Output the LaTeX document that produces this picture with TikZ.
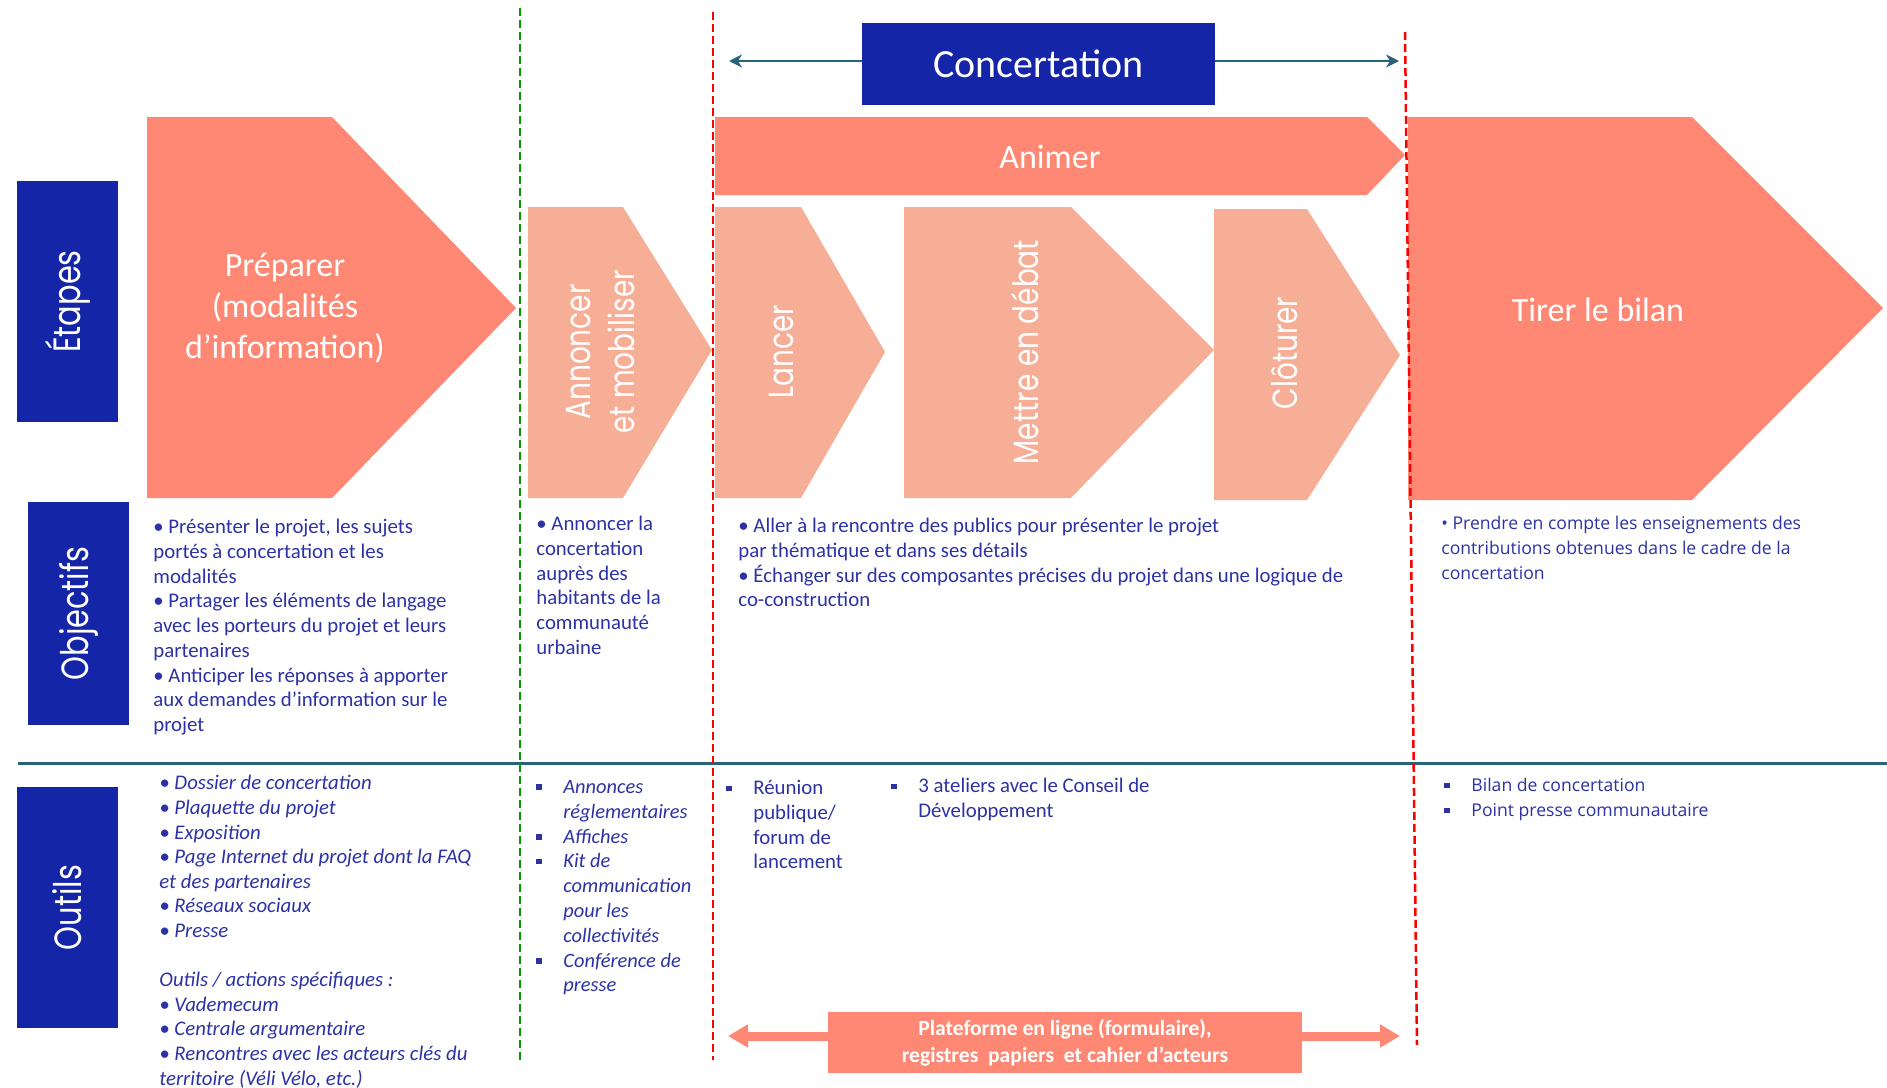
\documentclass[tikz,border=0pt]{standalone}
\usepackage{fontspec}
\setmainfont{Carlito}
\newfontfamily\poppins{Poppins}
\newfontfamily\opensans{Open Sans}
\definecolor{conblue}{RGB}{21,37,168}
\definecolor{chevdark}{RGB}{254,136,116}
\definecolor{chevlight}{RGB}{247,174,151}
\definecolor{tealline}{RGB}{38,98,120}
\definecolor{textblue}{RGB}{44,50,165}
\usetikzlibrary{arrows.meta, positioning}
\newcommand{\sqb}{\makebox[13.5pt][l]{\raisebox{1.8pt}{\rule{2.8pt}{2.8pt}}}}

\begin{document}
\begin{tikzpicture}[
    x=0.5pt, y=-0.5pt,
    sidebox/.style={fill=conblue, text=white, minimum width=50.5pt, inner sep=0pt, font=\poppins\fontsize{19}{22}\selectfont},
    steplabel/.style={text=white, align=center, font=\fontsize{17}{20.5}\selectfont},
    vlabel/.style={text=white, rotate=90, align=center, inner sep=0pt, font=\poppins\fontsize{17.5}{22}\selectfont},
    bodytext/.style={anchor=north west, inner sep=0pt, align=left, text=textblue, font=\fontsize{10.4}{12.35}\selectfont},
    sidetext/.style={anchor=north west, inner sep=0pt, align=left, text=textblue, font=\opensans\fontsize{8.8}{12.5}\selectfont},
    conarrow/.style={draw=tealline, line width=1.4pt, -{Stealth[length=6.5pt,width=6.5pt]}},
    platarrow/.style={draw=chevdark, line width=4.5pt, -{Triangle[length=10pt,width=11pt]}},
    redline/.style={red, line width=1.25pt, dash pattern=on 4pt off 2pt},
    greenline/.style={green!60!black, line width=1.25pt, dash pattern=on 4pt off 2pt}
]
    \useasboundingbox (0,0) rectangle (1887,1088);

    % Left column titles
    \node[sidebox, minimum height=120.5pt] (etapes) at (67.5,301.5) {\rotatebox{90}{\scalebox{0.8}[1]{Étapes}}};
    \node[sidebox, minimum height=111.5pt] (objectifs) at (78.5,613.5) {\rotatebox{90}{\scalebox{0.8}[1]{Objectifs}}};
    \node[sidebox, minimum height=120.5pt] (outils) at (67.5,907.5) {\rotatebox{90}{\scalebox{0.8}[1]{Outils}}};

    % Steps
    \fill[chevdark] (147,117) -- (332,117) -- (516,308) -- (332,498) -- (147,498) -- cycle;
    \fill[chevlight] (528,207) -- (623,207) -- (712,350) -- (623,498) -- (528,498) -- cycle;
    \fill[chevlight] (715,207) -- (801,207) -- (885,352) -- (801,498) -- (715,498) -- cycle;
    \fill[chevlight] (904,207) -- (1071,207) -- (1214,350) -- (1071,498) -- (904,498) -- cycle;
    \fill[chevlight] (1214,209) -- (1307,209) -- (1400,355) -- (1307,500) -- (1214,500) -- cycle;
    \fill[chevdark] (1408,117) -- (1692,117) -- (1883,308) -- (1692,500) -- (1408,500) -- cycle;
    \fill[chevdark] (715,117) -- (1367,117) -- (1405,155) -- (1367,195) -- (715,195) -- cycle;

    \node[steplabel] (preparer) at (285,308) {Préparer\\(modalités\\d’information)};
    \node[steplabel] (animer) at (1050,157) {Animer};
    \node[steplabel] (bilan) at (1598,310) {Tirer le bilan};
    \node[vlabel] (annoncer) at (601,352) {\scalebox{0.8}[1]{Annoncer}\\\scalebox{0.8}[1]{et mobiliser}};
    \node[vlabel] (lancer) at (781,352) {\scalebox{0.8}[1]{Lancer}};
    \node[vlabel] (debat) at (1025,352) {\scalebox{0.8}[1]{Mettre en débat}};
    \node[vlabel] (cloturer) at (1284,353) {\scalebox{0.8}[1]{Clôturer}};

    % Concertation
    \node[fill=conblue, text=white, minimum width=176.5pt, minimum height=41pt, font=\fontsize{20}{24}\selectfont] (concert) at (1038.5,64) {Concertation};
    \coordinate (conL) at (729,61);
    \coordinate (conR) at (1399,61);
    \draw[conarrow] (concert.west |- conL) -- (conL);
    \draw[conarrow] (concert.east |- conR) -- (conR);

    % Objectifs
    \node[bodytext] (obj1) at (153,519) {• Présenter le projet, les sujets\\portés à concertation et les\\modalités\\• Partager les éléments de langage\\avec les porteurs du projet et leurs\\partenaires\\• Anticiper les réponses à apporter\\aux demandes d’information sur le\\projet};
    \node[bodytext] (obj2) at (536,516) {• Annoncer la\\concertation\\auprès des\\habitants de la\\communauté\\urbaine};
    \node[bodytext] (obj3) at (738,518) {• Aller à la rencontre des publics pour présenter le projet\\par thématique et dans ses détails\\• Échanger sur des composantes précises du projet dans une logique de\\co-construction};
    \node[sidetext] (obj4) at (1441,516) {• Prendre en compte les enseignements des\\contributions obtenues dans le cadre de la\\concertation};

    \draw[tealline, line width=1.5pt] (18,763) -- (1887,763);

    % Outils
    \node[bodytext, font=\itshape\fontsize{10.4}{12.3}\selectfont] (out1) at (159,775) {• Dossier de concertation\\• Plaquette du projet\\• Exposition\\• Page Internet du projet dont la FAQ\\et des partenaires\\• Réseaux sociaux\\• Presse\\[12.3pt]Outils / actions spécifiques :\\• Vademecum\\• Centrale argumentaire\\• Rencontres avec les acteurs clés du\\territoire (Véli Vélo, etc.)};
    \node[bodytext, font=\itshape\fontsize{10.2}{12.4}\selectfont] (out2) at (536,780) {\sqb Annonces\\\hspace*{13.5pt}réglementaires\\\sqb Affiches\\\sqb Kit de\\\hspace*{13.5pt}communication\\\hspace*{13.5pt}pour les\\\hspace*{13.5pt}collectivités\\\sqb Conférence de\\\hspace*{13.5pt}presse};
    \node[bodytext] (out3a) at (726,780) {\sqb Réunion\\\hspace*{13.5pt}publique/\\\hspace*{13.5pt}forum de\\\hspace*{13.5pt}lancement};
    \node[bodytext] (out3b) at (891,778) {\sqb 3 ateliers avec le Conseil de\\\hspace*{13.5pt}Développement};
    \node[sidetext] (out4) at (1444,778) {\sqb Bilan de concertation\\\sqb Point presse communautaire};

    % Plateforme
    \node[fill=chevdark, text=white, minimum width=237pt, minimum height=30.5pt, align=center, font=\bfseries\fontsize{10.8}{13.5}\selectfont] (plat) at (1065,1042.5) {Plateforme en ligne (formulaire),\\registres\ \ papiers\ \ et cahier d’acteurs};
    \coordinate (platL) at (728,1036);
    \coordinate (platR) at (1400,1036);
    \draw[platarrow] (plat.west |- platL) -- (platL);
    \draw[platarrow] (plat.east |- platR) -- (platR);

    % Separators
    \draw[greenline] (520,8) -- (520,1060);
    \draw[redline] (713,12) -- (713,1060);
    \draw[redline] (1405,32) -- (1417,1045);
\end{tikzpicture}
\end{document}
